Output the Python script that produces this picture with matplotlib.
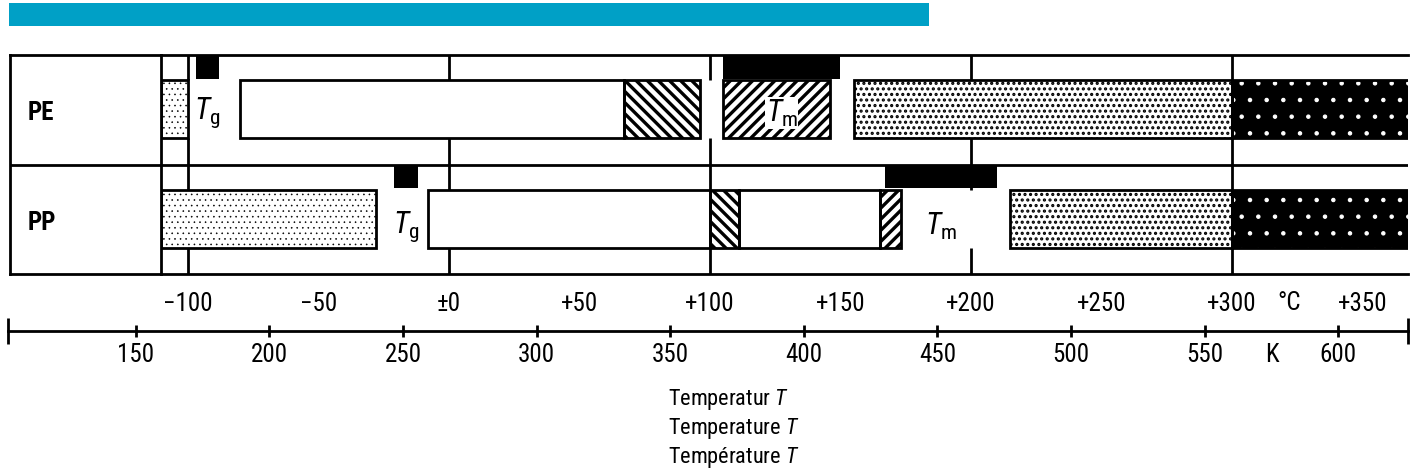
import matplotlib
matplotlib.use("Agg")
import matplotlib.pyplot as plt
from matplotlib import font_manager
from matplotlib.patches import Rectangle

# temperature ranges of the states, in degC
pe_from = [-110.3, -80, 67, 105, 155, 300]
pe_to = [-100, 67, 96, 146, 300, 372]
pe_kind = ["glass", "solid", "soften", "melt", "flow", "decomp"]
pe_tg = (-97, -88)
pe_tm = (105, 150)

pp_from = [-110.3, -8, 100, 111, 165, 215, 300]
pp_to = [-28, 100, 111, 165, 173, 300, 372]
pp_kind = ["glass", "solid", "soften", "solid", "melt", "flow", "decomp"]
pp_tg = (-21, -12)
pp_tm = (167, 210)

polymers = ["PE", "PP"]
grid_c = [-100, 0, 100, 200, 300]
ticks_c = [-100, -50, 0, 50, 100, 150, 200, 250, 300, 350]
ticks_k = [150, 200, 250, 300, 350, 400, 450, 500, 550, 600]
axis_title = ["Temperatur", "Temperature", "Température"]

# font: pick a narrow one if there is one
names = {f.name for f in font_manager.fontManager.ttflist}
fam = "DejaVu Sans"
for cand in ["Liberation Sans Narrow", "Roboto Condensed", "DejaVu Sans Condensed"]:
    if cand in names:
        fam = cand
        break
plt.rcParams["font.family"] = [fam, "DejaVu Sans"]
plt.rcParams["font.stretch"] = "condensed"
plt.rcParams["mathtext.fontset"] = "custom"
plt.rcParams["mathtext.rm"] = fam
plt.rcParams["mathtext.it"] = fam + ":italic"

STYLE = {
    "glass": dict(fc="white", hatch="...", hlw=0.4, hc="black"),
    "solid": dict(fc="white", hatch=None, hlw=1.0, hc="black"),
    "soften": dict(fc="white", hatch="\\\\\\", hlw=2.4, hc="black"),
    "melt": dict(fc="white", hatch="///", hlw=2.4, hc="black"),
    "flow": dict(fc="white", hatch="...", hlw=1.5, hc="black"),
    "decomp": dict(fc="black", hatch=".", hlw=0.8, hc="white"),
}
LW = 2.0
BAR_Y, BAR_H = 0.24, 0.53
MARK_Y, MARK_H = 0.785, 0.215

W, H = 1420, 474
fig = plt.figure(figsize=(W / 100, H / 100), dpi=100)

# blue header stripe
fig.add_artist(Rectangle((9 / W, 1 - 26 / H), 920 / W, 23 / H,
                         transform=fig.transFigure, color="#00A0C6", lw=0))

# label column
lax = fig.add_axes([10 / W, 1 - 274 / H, 151 / W, 219 / H])
lax.set_xlim(0, 1)
lax.set_ylim(0, 2)
lax.set_xticks([])
lax.set_yticks([])
for s in lax.spines.values():
    s.set_linewidth(LW)
lax.spines["right"].set_visible(False)
lax.axhline(1, color="black", lw=LW)
for i, name in enumerate(polymers):
    lax.text(0.12, 1.47 - i, name, fontsize=18, fontweight="bold",
             ha="left", va="center")

# main chart
ax = fig.add_axes([161 / W, 1 - 274 / H, 1247 / W, 219 / H])
ax.set_xlim(-110.3, 367.4)
ax.set_ylim(0, 2)
ax.set_yticks([])
for s in ax.spines.values():
    s.set_linewidth(LW)
ax.spines["right"].set_visible(False)
ax.axhline(1, color="black", lw=LW, zorder=1)

for y0, y1 in [(1 + BAR_Y + BAR_H, 2), (BAR_Y + BAR_H, 1 + BAR_Y), (0, BAR_Y)]:
    ax.vlines(grid_c, y0, y1, color="black", lw=LW, zorder=1)


def draw_row(row, starts, ends, kinds, tg, tm):
    for a, b, k in zip(starts, ends, kinds):
        st = STYLE[k]
        with plt.rc_context({"hatch.linewidth": st["hlw"]}):
            bars = ax.barh(row + BAR_Y, b - a, left=a, height=BAR_H, align="edge",
                           color=st["fc"], edgecolor=st["hc"], hatch=st["hatch"],
                           linewidth=0, zorder=2)
        for p in bars:
            if hasattr(p, "set_hatch_linewidth"):
                p.set_hatch_linewidth(st["hlw"])
        ax.barh(row + BAR_Y, b - a, left=a, height=BAR_H, align="edge",
                fill=False, edgecolor="black", linewidth=LW, zorder=2.5)
    for rng in (tg, tm):
        ax.barh(row + MARK_Y, rng[1] - rng[0], left=rng[0], height=MARK_H,
                align="edge", color="black", lw=0, zorder=3)


draw_row(1, pe_from, pe_to, pe_kind, pe_tg, pe_tm)
draw_row(0, pp_from, pp_to, pp_kind, pp_tg, pp_tm)

# Tg / Tm labels
ax.text(sum(pe_tg) / 2, 1.47, r"$T_\mathrm{g}$", fontsize=22, ha="center", va="center", zorder=4)
ax.text(sum(pe_tm) / 2, 1.47, r"$T_\mathrm{m}$", fontsize=22, ha="center", va="center", zorder=4,
        bbox=dict(fc="white", ec="none", pad=0.5))
ax.text(sum(pp_tg) / 2, 0.43, r"$T_\mathrm{g}$", fontsize=22, ha="center", va="center", zorder=4)
ax.text(sum(pp_tm) / 2, 0.43, r"$T_\mathrm{m}$", fontsize=22, ha="center", va="center", zorder=4)

# degC scale
ax.set_xticks(ticks_c)
ax.set_xticklabels(["\u00b10" if v == 0 else f"{v:+d}".replace("-", "\u2212") for v in ticks_c],
                   fontsize=18)
ax.tick_params(axis="x", which="major", length=0, pad=13)
ax.set_xticks([v for v in ticks_c if v % 100], minor=True)
ax.tick_params(axis="x", which="minor", length=6, width=LW, direction="out")
ax.annotate("\u00b0C", xy=(322, 0), xycoords=("data", "axes fraction"),
            xytext=(0, -21), textcoords="offset points", ha="center", va="center",
            fontsize=18)

# Kelvin ruler
kax = fig.add_axes([8 / W, 1 - 331 / H, 1400 / W, 0.0001])
kax.set_xlim(102.2, 626.1)
kax.set_yticks([])
kax.patch.set_visible(False)
for side in ["top", "left", "right"]:
    kax.spines[side].set_visible(False)
kax.spines["bottom"].set_linewidth(LW)
kax.set_xticks(ticks_k)
kax.set_xticklabels([str(v) for v in ticks_k], fontsize=18)
kax.tick_params(axis="x", which="major", length=9, width=LW, direction="inout", pad=4)
kax.set_xticks(kax.get_xlim(), minor=True)
kax.tick_params(axis="x", which="minor", length=19, width=LW, direction="inout")
kax.annotate("K", xy=(575, 0), xycoords=("data", "axes fraction"),
             xytext=(0, -17.5), textcoords="offset points", ha="center", va="center",
             fontsize=18)

# axis title in three languages
for i, word in enumerate(axis_title):
    fig.text(668 / W, 1 - (400 + 28.5 * i) / H, word + " $T$", fontsize=16,
             ha="left", va="center")

fig.savefig("out.png", dpi=100)
